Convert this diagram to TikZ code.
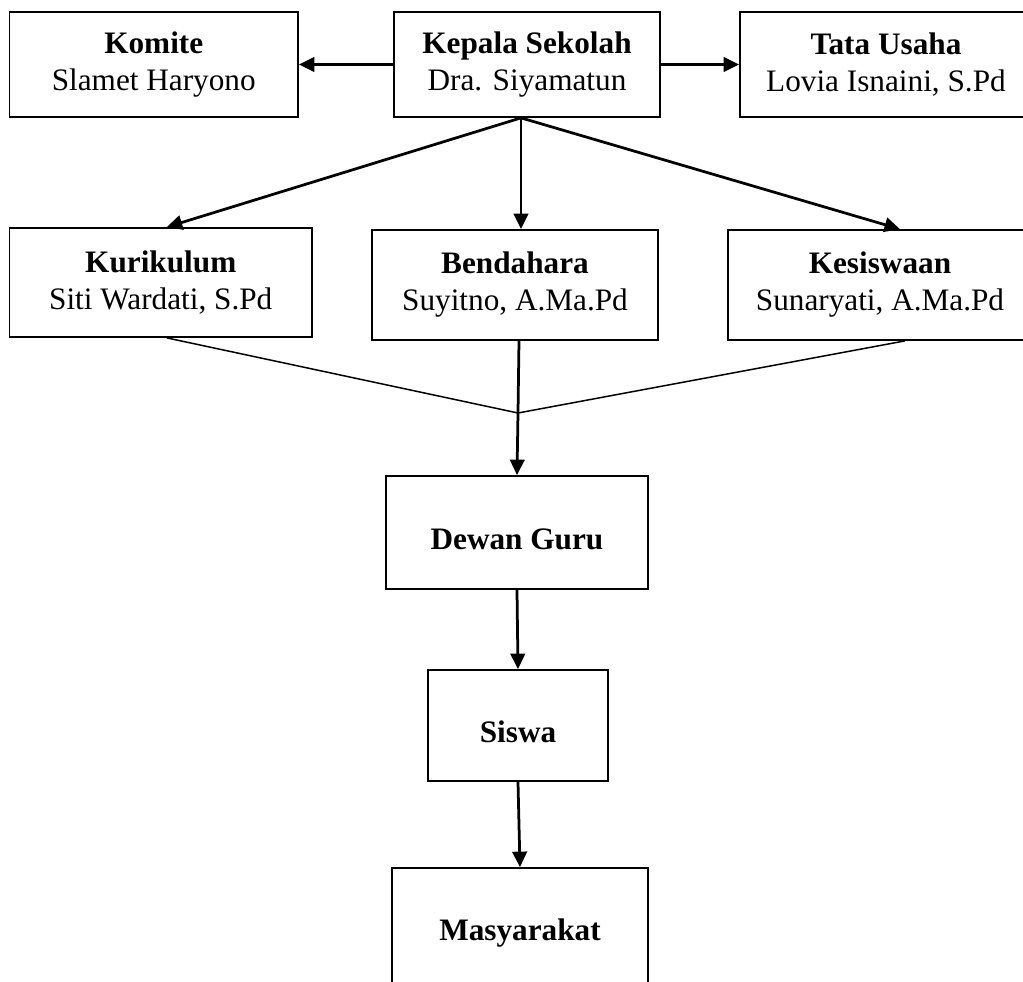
\documentclass[tikz,border=0pt]{standalone}
\usepackage{fontspec}
\setmainfont{Liberation Serif}
\usetikzlibrary{arrows.meta,calc}
\tikzset{
  box_n/.style = {draw=black, line width=0.7pt, rectangle, align=center, inner sep=0pt, font=\fontsize{12.5}{14.8}\selectfont},
  box_s/.style = {box_n, font=\fontsize{12.5}{14.8}\selectfont\bfseries, text depth=0pt, text height=13.9pt},
  arr/.style = {line width=1.1pt, -{Triangle[length=6.2pt,width=5.8pt]}},
  join_l/.style = {line width=0.6pt}
}

\begin{document}
\begin{tikzpicture}[x=0.4pt,y=-0.4pt]
\useasboundingbox (0,0) rectangle (1023,982);
\clip (0,0) rectangle (1023,982);
\node [box_n, minimum width=115.4pt, minimum height=42pt] (komite) at (153.75,64.5) {\textbf{Komite}\\Slamet Haryono};
\node [box_n, minimum width=106.4pt, minimum height=42pt] (kepala) at (527,64.5) {\textbf{Kepala Sekolah}\\Dra. Siyamatun};
\node [box_n, minimum width=116.8pt, minimum height=42pt] (tata) at (886,64.5) {\textbf{Tata Usaha}\\Lovia Isnaini, S.Pd};
\node [box_n, minimum width=121pt, minimum height=43.6pt] (kurikulum) at (160.75,282.5) {\textbf{Kurikulum}\\Siti Wardati, S.Pd};
\node [box_n, minimum width=114.4pt, minimum height=44pt] (bendahara) at (515,285) {\textbf{Bendahara}\\Suyitno, A.Ma.Pd};
\node [box_n, minimum width=121.6pt, minimum height=44pt] (kesiswaan) at (880,285) {\textbf{Kesiswaan}\\Sunaryati, A.Ma.Pd};
\node [box_s, minimum width=104.8pt, minimum height=45.2pt] (dewan) at (517,532.5) {Dewan Guru};
\node [box_s, minimum width=72pt, minimum height=44.4pt] (siswa) at (518,725.5) {Siswa};
\node [box_s, text height=8.3pt, minimum width=102.4pt, minimum height=49.6pt] (masyarakat) at (520,930) {Masyarakat};

\coordinate (ks) at ($(kepala.south)+(-6,0)$);
\coordinate (temu) at (518,413);
\draw[arr] (kepala.west) -- (komite.east);
\draw[arr] (kepala.east) -- (tata.west);
\draw[arr] (ks) -- (ks |- bendahara.north);
\draw[arr] (ks) -- ($(kurikulum.north)+(6,0)$);
\draw[arr] (ks) -- ($(kesiswaan.north)+(20,0)$);
\draw[join_l] ($(kurikulum.south)+(6,0)$) -- (temu) -- ($(kesiswaan.south)+(25,0)$);
\draw[arr] ($(bendahara.south)+(4,0)$) -- (temu) -- (dewan.north);
\draw[arr] (dewan.south) -- (siswa.north);
\draw[arr] (siswa.south) -- (masyarakat.north);
\end{tikzpicture}
\end{document}
